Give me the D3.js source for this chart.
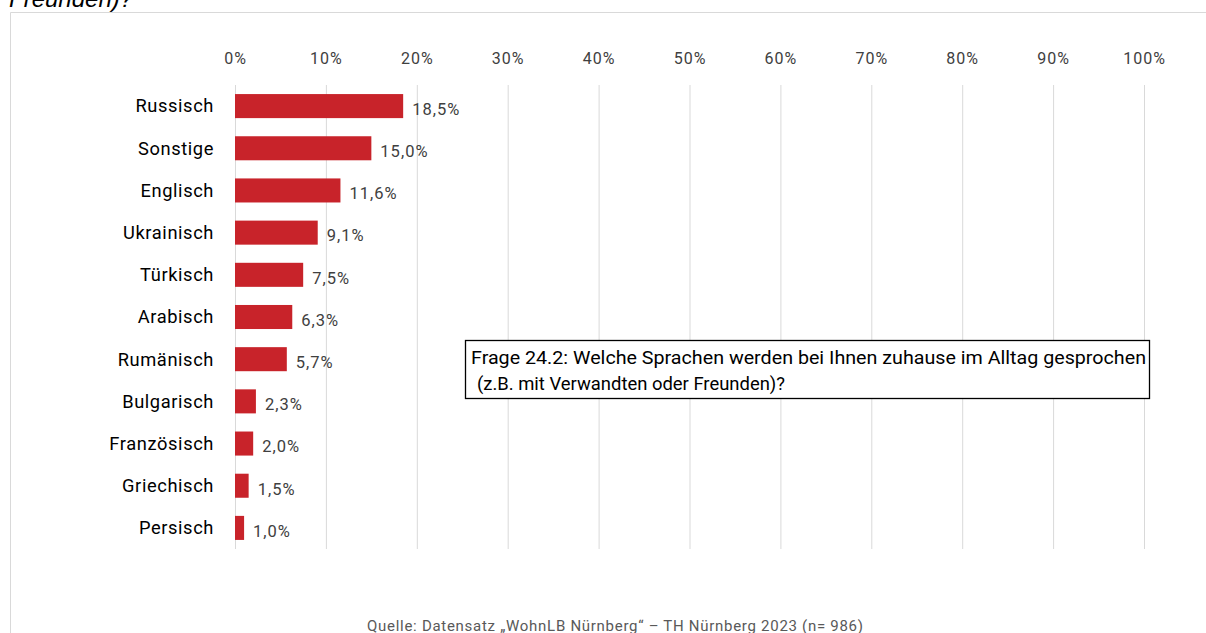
<!DOCTYPE html>
<html><head><meta charset="utf-8">
<script src="https://cdn.jsdelivr.net/npm/d3@7"></script>
<style>body{margin:0;background:#fff;}svg{display:block;}</style>
</head><body>
<svg id="c" width="1206" height="633"></svg>
<script>
const categories = ["Russisch","Sonstige","Englisch","Ukrainisch","Türkisch","Arabisch","Rumänisch","Bulgarisch","Französisch","Griechisch","Persisch"];
const values = [18.5,15.0,11.6,9.1,7.5,6.3,5.7,2.3,2.0,1.5,1.0];
const tickValues = [0,10,20,30,40,50,60,70,80,90,100];
const boxLines = ["Frage 24.2: Welche Sprachen werden bei Ihnen zuhause im Alltag gesprochen","(z.B. mit Verwandten oder Freunden)?"];
const source = "Quelle: Datensatz „WohnLB Nürnberg“ – TH Nürnberg 2023 (n= 986)";
const topText = "Freunden)?";

const svg = d3.select("#c");
const font = "Roboto, 'Liberation Sans', sans-serif";

svg.append("text").attr("x",9).attr("y",7).attr("font-family","'Liberation Sans', Arial, sans-serif")
  .attr("font-style","italic").attr("font-size",24).attr("fill","#000").text(topText);

// frame
svg.append("path").attr("d","M10.5,633 V12.5 H1206").attr("fill","none").attr("stroke","#d9d9d9").attr("stroke-width",1);

const x = d3.scaleLinear().domain([0,100]).range([235,1144]);
const y = d3.scaleBand().domain(categories).range([85,549]).paddingInner(0.43).paddingOuter(0.215);

// gridlines
svg.append("g").selectAll("line").data(tickValues).join("line")
  .attr("x1",d=>x(d)+0.5).attr("x2",d=>x(d)+0.5).attr("y1",85).attr("y2",549)
  .attr("stroke","#d9d9d9").attr("stroke-width",1);

// top axis labels
const ax = svg.append("g").attr("transform","translate(0,58)")
  .call(d3.axisTop(x).tickValues(tickValues).tickFormat(d=>d+"%").tickSize(0).tickPadding(0));
ax.select(".domain").remove();
ax.selectAll("text").attr("font-family",font).attr("font-size",16).attr("letter-spacing","1px")
  .attr("fill","#404040").attr("dy","0.35em");

// bars
svg.append("g").selectAll("rect").data(values).join("rect")
  .attr("x",x(0)).attr("y",(d,i)=>y(categories[i]))
  .attr("width",d=>x(d)-x(0)).attr("height",y.bandwidth())
  .attr("fill","#C8232A");

// category labels
const ay = svg.append("g").attr("transform","translate(214,0)")
  .call(d3.axisLeft(y).tickSize(0).tickPadding(0));
ay.select(".domain").remove();
ay.selectAll("text").attr("font-family",font).attr("font-size",18.3).attr("letter-spacing","0.6px")
  .attr("fill","#000").attr("dy","0.35em");

// value labels
svg.append("g").selectAll("text").data(values).join("text")
  .attr("x",d=>x(d)+9).attr("y",(d,i)=>y(categories[i])+y.bandwidth()/2+3)
  .attr("dy","0.35em").attr("font-family",font).attr("font-size",16.5).attr("letter-spacing","1px")
  .attr("fill","#404040")
  .text(d=>d.toFixed(1).replace(".",",")+"%");

// annotation box
svg.append("rect").attr("x",465.5).attr("y",340.5).attr("width",684).attr("height",58)
  .attr("fill","#fff").attr("stroke","#000").attr("stroke-width",1.3);
svg.append("g").selectAll("text").data(boxLines).join("text")
  .attr("x",(d,i)=>i===0?471:477).attr("y",(d,i)=>364+i*26).attr("font-family",font).attr("font-size",18.5)
  .attr("fill","#000").attr("textLength",(d,i)=>i===0?675:308).attr("lengthAdjust","spacingAndGlyphs")
  .text(d=>d);

svg.append("text").attr("x",615).attr("y",631).attr("text-anchor","middle").attr("font-family",font)
  .attr("font-size",15).attr("fill","#595959").attr("textLength",496).attr("lengthAdjust","spacing").text(source);
</script>
</body></html>
